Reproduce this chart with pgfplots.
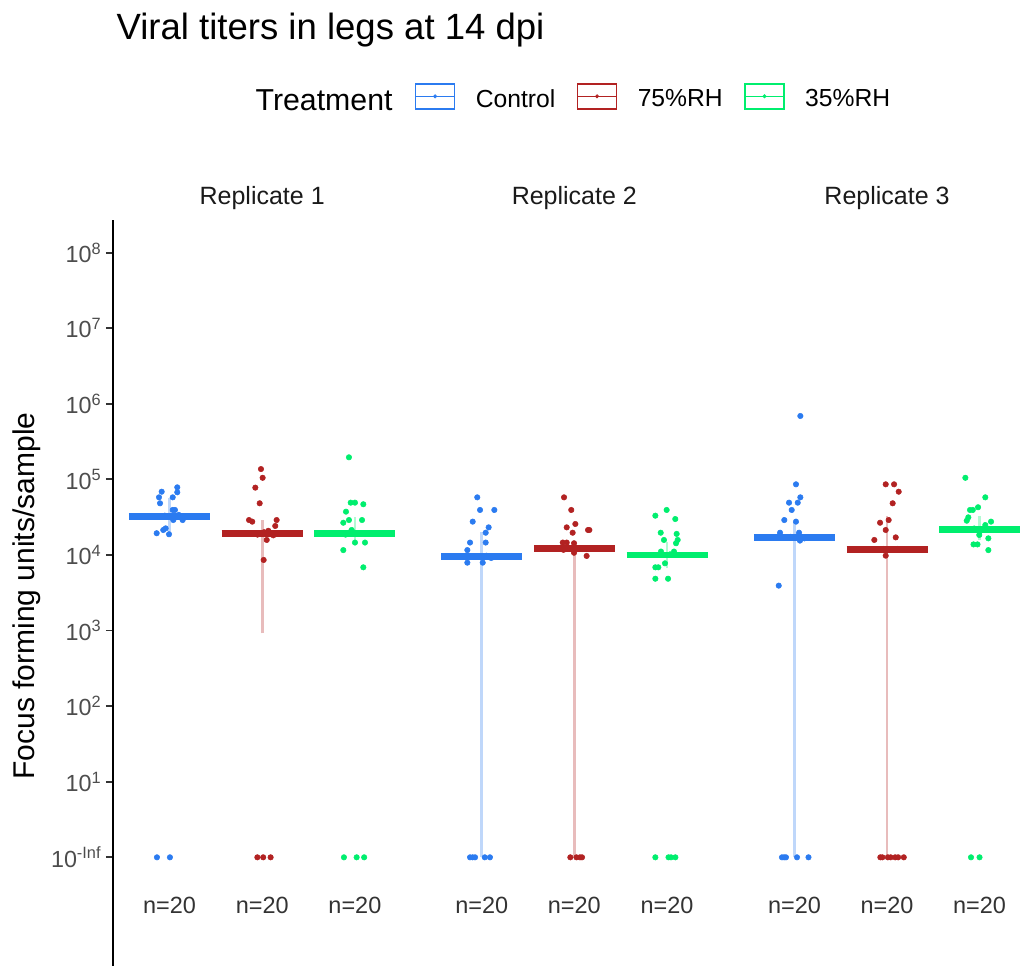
\documentclass[border=0pt]{standalone}
\usepackage{pgfplots}
\pgfplotsset{compat=1.18}
\usepackage{fontspec}
\setmainfont{Liberation Sans}
\definecolor{ctrl}{RGB}{43,123,240}
\definecolor{rhsf}{RGB}{178,34,34}
\definecolor{rhtf}{RGB}{0,238,110}
\definecolor{ticklab}{RGB}{77,77,77}
\definecolor{striptxt}{RGB}{26,26,26}
\pgfplotsset{
  pts/.style={only marks, mark=*, mark size=2.05pt, forget plot},
  cbar/.style={line width=5pt, forget plot},
  eb/.style={line width=2pt, opacity=0.3, forget plot},
  legimg/.style={legend image code/.code={
      \draw[line width=1.1pt] (0pt,-9.375pt) rectangle (29pt,9.375pt);
      \draw[line width=1.1pt] (0pt,0pt) -- (29pt,0pt);
      \fill (14.5pt,0pt) circle (1.3pt);}},
}
\tikzset{
  strip/.style={anchor=base, text=striptxt, font=\fontsize{18.75pt}{22pt}\selectfont},
  nlab/.style={anchor=base, text=black!80, font=\fontsize{17.6pt}{21pt}\selectfont},
}
\begin{document}
\begin{tikzpicture}
\begin{axis}[
  name=ax, at={(0,0)}, anchor=south west,
  scale only axis, width=685.275pt, height=559.5pt,
  xmin=-0.606, xmax=9.25,
  ymode=log, ymin=0.03648, ymax=2.704e8,
  axis x line=none, axis y line=left,
  axis line style={-, line width=1.6pt, black},
  xtick=\empty,
  ytick={1,10,100,1000,10000,100000,1000000,10000000,100000000},
  yticklabels={10\textsuperscript{-Inf},10\textsuperscript{1},10\textsuperscript{2},10\textsuperscript{3},10\textsuperscript{4},10\textsuperscript{5},10\textsuperscript{6},10\textsuperscript{7},10\textsuperscript{8}},
  yminorticks=false,
  tick align=outside, major tick length=5.5pt,
  ytick style={line width=1.4pt, color=black!80},
  yticklabel style={font=\fontsize{17.5pt}{21pt}\selectfont, text=ticklab},
  ylabel={Focus forming units/sample},
  ylabel style={font=\fontsize{22.5pt}{27pt}\selectfont, at={(axis description cs:-0.0945,0.496)}, anchor=center},
  clip=false,
  legend columns=-1,
  legend style={at={(axis description cs:0.3299,1.1642)}, anchor=west, draw=none, fill=none, inner sep=0pt,
    font=\fontsize{18.5pt}{22pt}\selectfont,
    nodes={yshift=-2.2pt},
    /tikz/every even column/.append style={column sep=14.25pt},
    /tikz/every odd column/.append style={column sep=13.5pt}},
]
\addlegendimage{color=ctrl, legimg}\addlegendentry{Control}
\addlegendimage{color=rhsf, legimg}\addlegendentry{75\%RH}
\addlegendimage{color=rhtf, legimg}\addlegendentry{35\%RH}

% ---------------- Replicate 1 ----------------
\addplot[eb, color=ctrl] coordinates {(0,1.94e4) (0,5.62e4)};
\addplot[pts, color=ctrl] table {
x y
-0.084 6.87e4
-0.113 5.79e4
-0.102 4.83e4
0.084 7.85e4
0.084 6.75e4
0.035 5.79e4
0.035 3.94e4
0.059 3.94e4
0.041 2.90e4
0.142 2.90e4
-0.138 1.94e4
-0.067 2.14e4
-0.041 2.25e4
-0.005 1.88e4
-0.050 3.31e4
0.020 3.16e4
0.100 3.39e4
-0.120 3.24e4
-0.135 1
0.005 1
};
\addplot[cbar, color=ctrl] coordinates {(-0.437,3.21e4) (0.437,3.21e4)};

\addplot[eb, color=rhsf] coordinates {(1,920) (1,2.90e4)};
\addplot[pts, color=rhsf] table {
x y
0.987 1.37e5
1.005 1.05e5
0.926 7.78e4
0.973 4.83e4
0.858 2.90e4
0.893 2.76e4
1.156 2.90e4
1.141 2.42e4
1.066 2.09e4
1.049 1.58e4
1.016 8.59e3
0.900 1.95e4
0.950 1.86e4
1.020 2.00e4
1.080 1.91e4
1.120 1.82e4
1.180 1.95e4
0.948 1
1.011 1
1.091 1
};
\addplot[cbar, color=rhsf] coordinates {(0.563,1.94e4) (1.437,1.94e4)};

\addplot[eb, color=rhtf] coordinates {(2,1.35e4) (2,3.16e4)};
\addplot[pts, color=rhtf] table {
x y
1.936 1.96e5
1.955 4.92e4
2.001 4.92e4
2.091 4.69e4
1.904 3.74e4
1.875 2.67e4
1.936 2.90e4
2.077 2.90e4
1.965 2.14e4
2.001 1.46e4
2.109 1.46e4
1.875 1.16e4
2.091 6.87e3
1.950 2.00e4
2.030 1.91e4
2.100 1.95e4
1.900 1.86e4
1.882 1
2.019 1
2.100 1
};
\addplot[cbar, color=rhtf] coordinates {(1.563,1.94e4) (2.437,1.94e4)};

% ---------------- Replicate 2 ----------------
\addplot[eb, color=ctrl] coordinates {(3.368,1) (3.368,2.03e4)};
\addplot[pts, color=ctrl] table {
x y
3.320 5.79e4
3.350 3.94e4
3.504 3.94e4
3.271 2.76e4
3.443 2.32e4
3.411 1.97e4
3.242 1.46e4
3.411 1.46e4
3.213 1.16e4
3.213 7.91e3
3.379 7.91e3
3.300 9.55e3
3.360 9.33e3
3.420 9.77e3
3.470 9.12e3
3.242 1
3.270 1
3.296 1
3.401 1
3.457 1
};
\addplot[cbar, color=ctrl] coordinates {(2.931,9.48e3) (3.805,9.48e3)};

\addplot[eb, color=rhsf] coordinates {(4.367,1) (4.367,1.43e4)};
\addplot[pts, color=rhsf] table {
x y
4.256 5.79e4
4.334 3.94e4
4.378 2.57e4
4.285 2.32e4
4.349 1.97e4
4.529 2.14e4
4.515 2.14e4
4.242 1.46e4
4.285 1.46e4
4.364 1.43e4
4.364 1.07e4
4.500 9.71e3
4.300 1.26e4
4.400 1.23e4
4.460 1.20e4
4.250 1.17e4
4.324 1
4.390 1
4.428 1
4.450 1
};
\addplot[cbar, color=rhsf] coordinates {(3.930,1.22e4) (4.804,1.22e4)};

\addplot[eb, color=rhtf] coordinates {(5.367,6.67e3) (5.367,1.50e4)};
\addplot[pts, color=rhtf] table {
x y
5.241 3.31e4
5.363 3.94e4
5.456 2.99e4
5.299 1.97e4
5.471 1.90e4
5.334 1.58e4
5.482 1.58e4
5.464 1.43e4
5.302 1.11e4
5.442 1.11e4
5.345 7.76e3
5.241 6.87e3
5.273 6.87e3
5.241 4.85e3
5.378 4.85e3
5.400 1.02e4
5.241 1
5.383 1
5.410 1
5.457 1
};
\addplot[cbar, color=rhtf] coordinates {(4.930,1.0e4) (5.804,1.0e4)};

% ---------------- Replicate 3 ----------------
\addplot[eb, color=ctrl] coordinates {(6.742,1) (6.742,2.76e4)};
\addplot[pts, color=ctrl] table {
x y
6.805 6.90e5
6.758 8.61e4
6.805 5.79e4
6.683 4.92e4
6.777 4.92e4
6.712 3.94e4
6.632 2.90e4
6.758 2.76e4
6.586 1.97e4
6.791 1.97e4
6.801 1.55e4
6.572 3.93e3
6.700 1.74e4
6.780 1.70e4
6.850 1.66e4
6.607 1
6.630 1
6.650 1
6.769 1
6.893 1
};
\addplot[cbar, color=ctrl] coordinates {(6.305,1.71e4) (7.179,1.71e4)};

\addplot[eb, color=rhsf] coordinates {(7.740,1) (7.740,3.28e4)};
\addplot[pts, color=rhsf] table {
x y
7.726 8.61e4
7.816 8.61e4
7.866 6.87e4
7.801 4.83e4
7.758 2.90e4
7.665 2.67e4
7.726 2.14e4
7.834 1.71e4
7.603 1.58e4
7.726 9.79e3
7.700 1.20e4
7.780 1.17e4
7.850 1.20e4
7.668 1
7.690 1
7.749 1
7.780 1
7.828 1
7.860 1
7.921 1
};
\addplot[cbar, color=rhsf] coordinates {(7.303,1.19e4) (8.177,1.19e4)};

\addplot[eb, color=rhtf] coordinates {(8.738,1.58e4) (8.738,3.28e4)};
\addplot[pts, color=rhtf] table {
x y
8.585 1.05e5
8.800 5.79e4
8.722 4.28e4
8.635 3.94e4
8.665 3.94e4
8.617 3.15e4
8.600 2.84e4
8.862 2.76e4
8.800 2.49e4
8.735 1.84e4
8.833 1.66e4
8.673 1.38e4
8.716 1.38e4
8.833 1.16e4
8.680 2.24e4
8.760 2.14e4
8.820 2.19e4
8.740 2.04e4
8.646 1
8.738 1
};
\addplot[cbar, color=rhtf] coordinates {(8.301,2.19e4) (9.175,2.19e4)};

% ---------------- texts ----------------
\node[anchor=base west, font=\fontsize{27.4pt}{32pt}\selectfont] at (rel axis cs:-0.0015,1.2420) {Viral titers in legs at 14 dpi};
\node[anchor=base west, font=\fontsize{22.7pt}{27pt}\selectfont] at (rel axis cs:0.1507,1.1461) {Treatment};
\node[strip] at (axis cs:1,4.27e8) {Replicate 1};
\node[strip] at (axis cs:4.367,4.27e8) {Replicate 2};
\node[strip] at (axis cs:7.740,4.27e8) {Replicate 3};
\node[nlab] at (axis cs:0,0.183) {n=20};
\node[nlab] at (axis cs:1,0.183) {n=20};
\node[nlab] at (axis cs:2,0.183) {n=20};
\node[nlab] at (axis cs:3.368,0.183) {n=20};
\node[nlab] at (axis cs:4.367,0.183) {n=20};
\node[nlab] at (axis cs:5.367,0.183) {n=20};
\node[nlab] at (axis cs:6.742,0.183) {n=20};
\node[nlab] at (axis cs:7.740,0.183) {n=20};
\node[nlab] at (axis cs:8.738,0.183) {n=20};
\end{axis}
\pgfresetboundingbox
\path[use as bounding box] (-84.975pt,0pt) rectangle (685.275pt,724.5pt);
\end{tikzpicture}
\end{document}
